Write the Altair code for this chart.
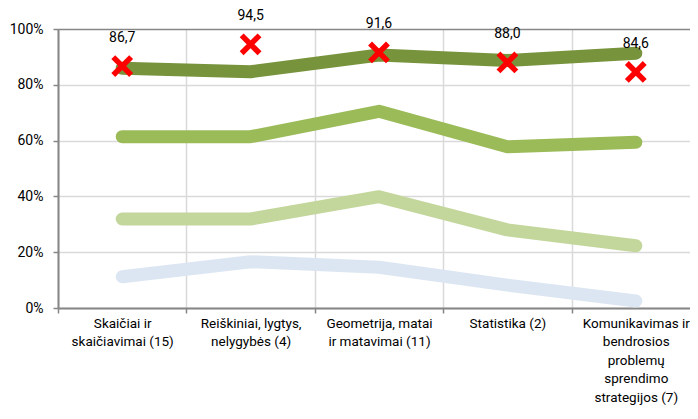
import altair as alt
import pandas as pd

categories = [
    "Skaičiai ir|skaičiavimai (15)",
    "Reiškiniai, lygtys,|nelygybės (4)",
    "Geometrija, matai|ir matavimai (11)",
    "Statistika (2)",
    "Komunikavimas ir|bendrosios|problemų|sprendimo|strategijos (7)",
]
series_names = ["s4", "s3", "s2", "s1"]
s1 = [85.9, 84.7, 90.7, 88.7, 91.3]
s2 = [61.4, 61.4, 70.5, 57.8, 59.4]
s3 = [31.9, 31.9, 39.9, 28.0, 22.3]
s4 = [11.2, 16.6, 14.6, 8.2, 2.5]
markers = [86.7, 94.5, 91.6, 88.0, 84.6]
colors = ["#DCE6F2", "#C3D69B", "#9BBB59", "#77933C"]

rows = []
for name, vals in zip(series_names, [s4, s3, s2, s1]):
    for c, v in zip(categories, vals):
        rows.append({"cat": c, "series": name, "v": v / 100})
lines_df = pd.DataFrame(rows)
marks_df = pd.DataFrame({"cat": categories, "v": [m / 100 for m in markers], "m": markers})

FONT = "Roboto"
x_scale = alt.Scale(type="band", paddingInner=0, paddingOuter=0, range=[0, 642])
x_enc = alt.X(
    "cat:N",
    sort=categories,
    scale=x_scale,
    axis=alt.Axis(
        title=None,
        labelAngle=0,
        labelExpr="split(datum.label, '|')",
        labelLineHeight=18.5,
        labelFontSize=13.5,
        labelFont=FONT,
        labelColor="#000000",
        labelPadding=3,
        labelBaseline="top",
        tickBand="extent",
        tickSize=5,
        tickColor="#868686",
        tickWidth=1.5,
        domainColor="#868686",
        domainWidth=2,
        grid=True,
        gridColor="#D9D9D9",
        gridWidth=1.5,
        labelLimit=200,
    ),
)
y_scale = alt.Scale(domain=[0, 1], nice=False)
y_axis = alt.Axis(
    title=None,
    values=[i / 10 for i in range(11)],
    format=".0%",
    labelExpr="round(datum.value*10) % 2 == 0 ? datum.label : ''",
    labelFontSize=14,
    labelFont=FONT,
    labelColor="#000000",
    labelPadding=10,
    tickSize=5,
    tickColor="#868686",
    tickWidth=1.5,
    tickOpacity={"condition": {"test": "round(datum.value*10) % 2 == 0", "value": 1}, "value": 0},
    domainColor="#868686",
    domainWidth=2,
    grid=True,
    gridColor={"condition": {"test": "datum.value > 0.999", "value": "#868686"}, "value": "#D9D9D9"},
    gridWidth=1.5,
)

lines = alt.Chart(lines_df).mark_line(strokeWidth=13, strokeCap="round", strokeJoin="round").encode(
    x=x_enc,
    y=alt.Y("v:Q", scale=y_scale, axis=y_axis),
    color=alt.Color("series:N", scale=alt.Scale(domain=series_names, range=colors), legend=None),
    order=alt.Order("series:N"),
)

xmarks = alt.Chart(marks_df).mark_point(
    shape="M-1,-1L1,1M1,-1L-1,1", filled=False, stroke="#FF0000", strokeWidth=5.5, size=320, opacity=1
).encode(x=alt.X("cat:N", sort=categories), y=alt.Y("v:Q", scale=y_scale))

labels = alt.Chart(marks_df).transform_calculate(
    t="replace(format(datum.m, '.1f'), '.', ',')"
).mark_text(fontSize=14, font=FONT, color="#000000", dy=-28, baseline="middle").encode(
    x=alt.X("cat:N", sort=categories), y=alt.Y("v:Q", scale=y_scale), text="t:N"
)

chart = alt.layer(lines, xmarks, labels).properties(
    width=632,
    height=279,
    autosize=alt.AutoSizeParams(type="none"),
    padding={"left": 50, "top": 21, "right": 0, "bottom": 98},
).configure_view(stroke=None)

chart.save("out.html", embed_options={"renderer": "svg", "actions": False})
